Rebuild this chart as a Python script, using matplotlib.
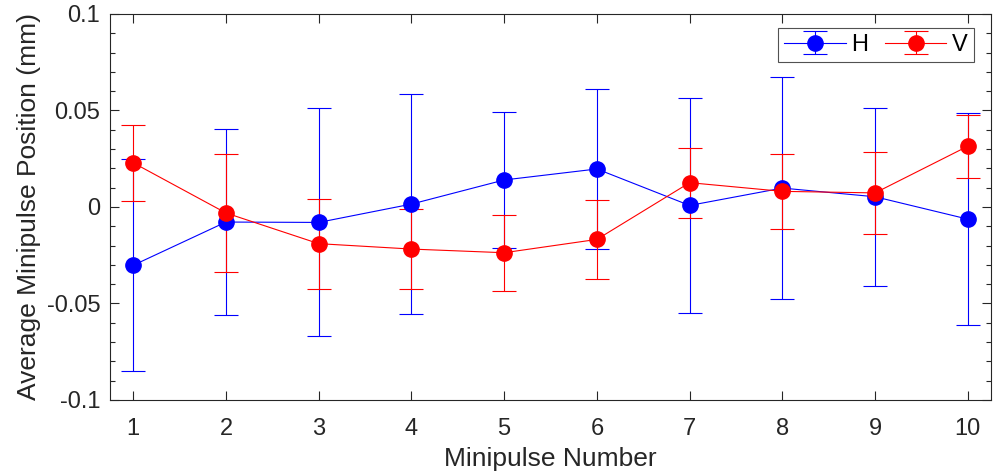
import numpy as np
import matplotlib
matplotlib.use("Agg")
import matplotlib.pyplot as plt
from matplotlib.ticker import MultipleLocator

plt.rcParams['font.family'] = ['Liberation Sans', 'DejaVu Sans']
plt.rcParams['axes.unicode_minus'] = False

# minipulse index and average positions (mm) with error bars
pulse = np.arange(1, 11)
h_mean = [-0.0302, -0.0078, -0.0080, 0.0015, 0.0140, 0.0197, 0.0008, 0.0098, 0.0053, -0.0063]
h_err = [0.0550, 0.0481, 0.0591, 0.0572, 0.0352, 0.0413, 0.0555, 0.0577, 0.0462, 0.0551]
v_mean = [0.0229, -0.0031, -0.0190, -0.0218, -0.0237, -0.0168, 0.0126, 0.0081, 0.0073, 0.0315]
v_err = [0.0196, 0.0306, 0.0233, 0.0205, 0.0197, 0.0204, 0.0181, 0.0194, 0.0211, 0.0163]

ytick_vals = [-0.1, -0.05, 0, 0.05, 0.1]
ytick_text = ['-0.1', '-0.05', '0', '0.05', '0.1']

fig = plt.figure(figsize=(9.93, 4.76), dpi=100)
ax = fig.add_axes([0.1108, 0.1597, 0.8872, 0.8109])

style = dict(marker='o', markersize=11, linewidth=0.8, elinewidth=0.8,
             capsize=8.5, capthick=0.8)
ax.errorbar(pulse, h_mean, yerr=h_err, color=(0, 0, 1), label='H', **style)
ax.errorbar(pulse, v_mean, yerr=v_err, color=(1, 0, 0), label='V', **style)

ax.set_xlim(0.75, 10.25)
ax.set_ylim(-0.1, 0.1)
ax.set_xticks(pulse)
ax.set_yticks(ytick_vals)
ax.set_yticklabels(ytick_text)
ax.yaxis.set_minor_locator(MultipleLocator(0.01))

dark = '#262626'
for sp in ax.spines.values():
    sp.set_color(dark)
    sp.set_linewidth(0.8)
ax.tick_params(which='both', direction='in', top=True, right=True,
               colors=dark, labelcolor=dark, width=0.8, labelsize=17)
ax.tick_params(which='major', length=6.5)
ax.tick_params(which='minor', length=3.5)
ax.tick_params(axis='x', pad=13)
ax.tick_params(axis='y', pad=7)

ax.set_xlabel('Minipulse Number', fontsize=19, color=dark, labelpad=5)
ax.set_ylabel('Average Minipulse Position (mm)', fontsize=19, color=dark, labelpad=4)

leg = ax.legend(loc='upper right', bbox_to_anchor=(0.9807, 0.9637), ncol=2,
                fontsize=17, frameon=True, fancybox=False, edgecolor=dark,
                handlelength=2.6, columnspacing=0.7, borderaxespad=0,
                handletextpad=0.25, borderpad=0.25)
leg.get_frame().set_linewidth(0.8)

fig.savefig('out.png', dpi=100, facecolor='white')
